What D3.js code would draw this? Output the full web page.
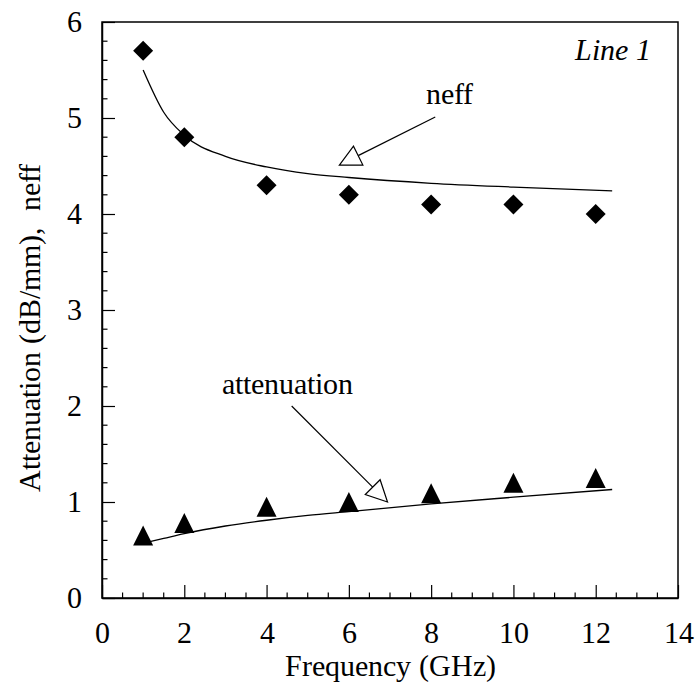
<!DOCTYPE html>
<html>
<head>
<meta charset="utf-8">
<script src="https://cdn.jsdelivr.net/npm/d3@7"></script>
<style>
  @font-face { font-family: "ChartSerif"; font-style: normal; font-weight: 400;
    src: local("Liberation Serif"), local("LiberationSerif"), local("Times New Roman"); }
  @font-face { font-family: "ChartSerif"; font-style: italic; font-weight: 400;
    src: local("Liberation Serif Italic"), local("LiberationSerif-Italic"), local("Times New Roman Italic"); }
  #chart text { font-family: "ChartSerif", "Liberation Serif", serif; }
</style>
</head>
<body style="margin:0;background:#fff">
<svg id="chart" width="699" height="689"></svg>
<script>
// Measured frequencies (GHz)
const freq = [1, 2, 4, 6, 8, 10, 12];
// Effective index (diamonds) and attenuation in dB/mm (triangles)
const neff = [5.7, 4.8, 4.3, 4.2, 4.1, 4.1, 4.0];
const attenuation = [0.65, 0.78, 0.95, 1.0, 1.09, 1.2, 1.25];

// Fitted trend curves, sampled along frequency
const fitFreq = [1, 1.5, 2, 3, 4, 5, 6, 8, 10, 12.4];
const neffFit = [5.50, 5.06, 4.82, 4.60, 4.49, 4.42, 4.38, 4.32, 4.28, 4.24];
const attFit  = [0.57, 0.62, 0.67, 0.75, 0.81, 0.86, 0.90, 0.98, 1.05, 1.13];

// Axis ticks
const xTicks = [0, 2, 4, 6, 8, 10, 12, 14];
const yTicks = [0, 1, 2, 3, 4, 5, 6];

const svg = d3.select("#chart");
const m = { left: 102, right: 678, top: 22, bottom: 598 };

const x = d3.scaleLinear().domain([0, 14]).range([m.left, m.right]);
const y = d3.scaleLinear().domain([0, 6]).range([m.bottom, m.top]);

// Serif label styling
function label(sel, size) {
  sel.attr("font-size", size || 30).attr("fill", "#000");
  sel.each(function () {
    this.style.setProperty("font-family", "ChartSerif, 'Liberation Serif', serif");
  });
  return sel;
}

// Frame
svg.append("rect")
  .attr("x", m.left).attr("y", m.top)
  .attr("width", m.right - m.left).attr("height", m.bottom - m.top)
  .attr("fill", "none").attr("stroke", "#000").attr("stroke-width", 1.5);

// Bottom axis: inward major ticks every 2, minor every 0.5
const xAxis = d3.axisBottom(x).tickValues(xTicks).tickFormat(d3.format("d"))
  .tickSizeInner(-13).tickSizeOuter(0).tickPadding(24);
const gx = svg.append("g").attr("transform", `translate(0,${m.bottom})`).call(xAxis);
gx.selectAll(".minor").data(d3.range(0, 14.001, 0.5).filter(v => !xTicks.includes(v)))
  .enter().append("line").attr("class", "minor")
  .attr("x1", d => x(d)).attr("x2", d => x(d))
  .attr("y1", 0).attr("y2", -5.5)
  .attr("stroke", "#000").attr("stroke-width", 1.2);

// Left axis: inward major ticks every 1, minor every 0.2
const yAxis = d3.axisLeft(y).tickValues(yTicks).tickFormat(d3.format("d"))
  .tickSizeInner(-13).tickSizeOuter(0).tickPadding(20);
const gy = svg.append("g").attr("transform", `translate(${m.left},0)`).call(yAxis);
gy.selectAll(".minor").data(d3.range(0, 6.001, 0.2).filter(v => Math.abs(v - Math.round(v)) > 1e-6))
  .enter().append("line").attr("class", "minor")
  .attr("x1", 0).attr("x2", 5.5)
  .attr("y1", d => y(d)).attr("y2", d => y(d))
  .attr("stroke", "#000").attr("stroke-width", 1.2);

[gx, gy].forEach(g => {
  g.attr("font-family", null).attr("font-size", null);
  g.select(".domain").attr("stroke", "#000").attr("stroke-width", 1.5);
  g.selectAll(".tick line").attr("stroke", "#000").attr("stroke-width", 1.2);
  label(g.selectAll(".tick text"));
});

// Axis titles
label(svg.append("text")
  .attr("x", (m.left + m.right) / 2).attr("y", 676)
  .attr("text-anchor", "middle")
  .text("Frequency (GHz)"));

label(svg.append("text")
  .attr("transform", `translate(40,328) rotate(-90)`)
  .attr("text-anchor", "middle")
  .text("Attenuation (dB/mm),\u00A0 neff"));

// Fitted curves
const line = d3.line().x(d => x(d[0])).y(d => y(d[1])).curve(d3.curveMonotoneX);
svg.append("path")
  .datum(fitFreq.map((f, i) => [f, neffFit[i]]))
  .attr("d", line).attr("fill", "none").attr("stroke", "#000").attr("stroke-width", 1.3);
svg.append("path")
  .datum(fitFreq.map((f, i) => [f, attFit[i]]))
  .attr("d", line).attr("fill", "none").attr("stroke", "#000").attr("stroke-width", 1.3);

// Markers
const diamond = "M0,-10L10,0L0,10L-10,0Z";
const triangle = "M0,-10L10,10L-10,10Z";
svg.append("g").selectAll("path").data(freq).enter().append("path")
  .attr("transform", (d, i) => `translate(${x(d)},${y(neff[i])})`)
  .attr("d", diamond).attr("fill", "#000");
svg.append("g").selectAll("path").data(freq).enter().append("path")
  .attr("transform", (d, i) => `translate(${x(d)},${y(attenuation[i])})`)
  .attr("d", triangle).attr("fill", "#000");

// Callouts with hollow arrowheads (positions in data units)
const callouts = [
  { label: "neff", tx: 8.44, ty: 5.15, from: [8.10, 5.01], to: [5.77, 4.51] },
  { label: "attenuation", tx: 4.50, ty: 2.12, from: [4.61, 2.00], to: [6.94, 1.00] }
];
const headLen = 21, headHalf = 10.5;
callouts.forEach(c => {
  label(svg.append("text")
    .attr("x", x(c.tx)).attr("y", y(c.ty))
    .attr("text-anchor", "middle")
    .text(c.label));
  const x0 = x(c.from[0]), y0 = y(c.from[1]);
  const x1 = x(c.to[0]), y1 = y(c.to[1]);
  const a = Math.atan2(y1 - y0, x1 - x0);
  const bx = x1 - headLen * Math.cos(a), by = y1 - headLen * Math.sin(a);
  const px = -Math.sin(a) * headHalf, py = Math.cos(a) * headHalf;
  svg.append("line")
    .attr("x1", x0).attr("y1", y0).attr("x2", bx).attr("y2", by)
    .attr("stroke", "#000").attr("stroke-width", 1.2);
  svg.append("path")
    .attr("d", `M${x1},${y1}L${bx + px},${by + py}L${bx - px},${by - py}Z`)
    .attr("fill", "#fff").attr("stroke", "#000").attr("stroke-width", 1.2);
});

// Panel label
label(svg.append("text")
  .attr("x", 651).attr("y", 60)
  .attr("text-anchor", "end")
  .style("font-style", "italic")
  .text("Line 1"));
</script>
</body>
</html>
